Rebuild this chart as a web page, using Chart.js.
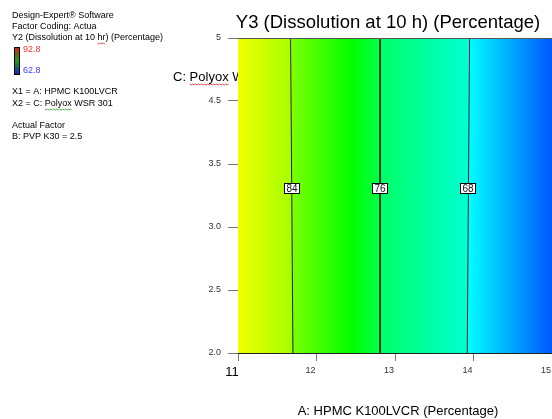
<!DOCTYPE html>
<html>
<head>
<meta charset="utf-8">
<script src="https://cdn.jsdelivr.net/npm/chart.js@4.4.1/dist/chart.umd.min.js"></script>
<style>
  html, body { margin: 0; padding: 0; background: #fff; }
  #wrap { width: 552px; height: 419px; }
</style>
</head>
<body>
<div id="wrap"><canvas id="contourChart" width="552" height="419"></canvas></div>
<script>
const FONT = '"Liberation Sans", Arial, sans-serif';

// contour lines of the response (x position at top and bottom of the plot)
const contourLevels = [84, 76, 68];
const contourTopX = [11.67, 12.81, 13.95];
const contourBottomX = [11.70, 12.81, 13.92];
const contourLabelY = 3.3;

const xRange = [11, 15];
const yRange = [2.0, 4.5];
const yTickLabels = ['2.0', '2.5', '3.0', '3.5', '4.5', '5'];

const colorbarRange = [92.8, 62.8];

// colour bands between the contours
const bandColors = [
  ['#f0ff00', '#a4ff00'],
  ['#7cff00', '#00ff00', '#00ff48'],
  ['#00ff64', '#00ffd4'],
  ['#00ffff', '#0058ff']
];
const bandStops = [[0, 1], [0, 0.68, 1], [0, 1], [0, 1]];

function contourMid(i) {
  return (contourTopX[i] + contourBottomX[i]) / 2;
}

function surfaceGradient(context) {
  const chart = context.chart;
  const area = chart.chartArea;
  const xs = chart.scales.x;
  if (!area || !xs) return '#00ff00';
  const g = chart.ctx.createLinearGradient(area.left, 0, area.right, 0);
  const edges = [xRange[0], contourMid(0), contourMid(1), contourMid(2), xRange[1]];
  const w = area.right - area.left;
  bandColors.forEach((cols, b) => {
    const p0 = (xs.getPixelForValue(edges[b]) - area.left) / w;
    const p1 = (xs.getPixelForValue(edges[b + 1]) - area.left) / w;
    cols.forEach((c, i) => {
      const f = Math.min(1, Math.max(0, p0 + (p1 - p0) * bandStops[b][i]));
      g.addColorStop(f, c);
    });
  });
  return g;
}

function squiggle(ctx, x, y, w, color) {
  ctx.save();
  ctx.strokeStyle = color;
  ctx.lineWidth = 0.8;
  ctx.beginPath();
  for (let i = 0; i <= w; i += 1.5) {
    const yy = y + ((Math.round(i / 1.5) % 2) ? 1 : 0);
    if (i === 0) ctx.moveTo(x + i, yy); else ctx.lineTo(x + i, yy);
  }
  ctx.stroke();
  ctx.restore();
}

const textPlugin = {
  id: 'designExpertText',
  beforeDraw(chart) {
    const ctx = chart.ctx;
    ctx.save();
    ctx.fillStyle = '#000';
    ctx.textBaseline = 'middle';
    ctx.textAlign = 'left';
    ctx.font = '9px ' + FONT;
    ctx.fillText('Design-Expert\u00ae Software', 12, 16);
    ctx.fillText('Factor Coding: Actua', 12, 27);
    const l3a = 'Y2 (Dissolution at 10 ';
    ctx.fillText(l3a + 'hr) (Percentage)', 12, 38);
    squiggle(ctx, 12 + ctx.measureText(l3a).width, 43, ctx.measureText('hr').width, '#d02020');

    // colour bar
    const cb = ctx.createLinearGradient(0, 47, 0, 75);
    cb.addColorStop(0, '#e01818');
    cb.addColorStop(0.5, '#18a018');
    cb.addColorStop(1, '#1818c8');
    ctx.fillStyle = cb;
    ctx.fillRect(14, 47, 6, 28);
    ctx.strokeStyle = '#000';
    ctx.lineWidth = 1;
    ctx.strokeRect(14.5, 47.5, 5, 27);
    ctx.fillStyle = '#ff3030';
    ctx.fillText(colorbarRange[0].toFixed(1), 23, 50);
    ctx.fillStyle = '#4040ff';
    ctx.fillText(colorbarRange[1].toFixed(1), 23, 70.5);

    ctx.fillStyle = '#000';
    ctx.fillText('X1 = A: HPMC K100LVCR', 12, 92);
    const x2a = 'X2 = C: ';
    ctx.fillText(x2a + 'Polyox WSR 301', 12, 104);
    squiggle(ctx, 12 + ctx.measureText(x2a).width, 109, ctx.measureText('Polyox').width, '#30a030');
    ctx.fillText('Actual Factor', 12, 126);
    ctx.fillText('B: PVP K30 = 2.5', 12, 137);

    // y axis title, partly hidden behind the surface
    ctx.font = '13px ' + FONT;
    const yt = 'C: ';
    ctx.fillText(yt + 'Polyox WSR 301 (Percentage)', 173, 77);
    squiggle(ctx, 173 + ctx.measureText(yt).width, 84, ctx.measureText('Polyox').width, '#d02020');
    ctx.restore();
  },
  afterDatasetsDraw(chart) {
    const ctx = chart.ctx;
    const area = chart.chartArea;
    const xs = chart.scales.x, ys = chart.scales.y;
    ctx.save();
    // top edge of the plot
    ctx.strokeStyle = '#555';
    ctx.lineWidth = 1;
    ctx.beginPath();
    ctx.moveTo(area.left, area.top + 0.5);
    ctx.lineTo(area.right, area.top + 0.5);
    ctx.stroke();

    // contour labels
    ctx.font = '10px ' + FONT;
    ctx.textAlign = 'center';
    ctx.textBaseline = 'middle';
    const f = (yRange[1] - contourLabelY) / (yRange[1] - yRange[0]);
    contourLevels.forEach((lvl, i) => {
      const xv = contourTopX[i] + (contourBottomX[i] - contourTopX[i]) * f;
      const px = Math.round(xs.getPixelForValue(xv));
      const py = Math.round(ys.getPixelForValue(contourLabelY));
      const txt = String(lvl);
      const w = Math.ceil(ctx.measureText(txt).width) + 4;
      ctx.fillStyle = '#fff';
      ctx.fillRect(px - w / 2, py - 6, w, 11);
      ctx.strokeStyle = '#000';
      ctx.strokeRect(px - w / 2 + 0.5, py - 5.5, w - 1, 10);
      ctx.fillStyle = '#111';
      ctx.fillText(txt, px, py);
    });
    ctx.restore();
  },
  afterDraw(chart) {
    const ctx = chart.ctx;
    ctx.save();
    ctx.fillStyle = '#000';
    ctx.textAlign = 'center';
    ctx.textBaseline = 'middle';
    ctx.font = '18.5px ' + FONT;
    ctx.fillText('Y3 (Dissolution at 10 h) (Percentage)', 388, 23);
    ctx.font = '13px ' + FONT;
    ctx.fillText('A: HPMC K100LVCR (Percentage)', 398, 411);
    ctx.restore();
  }
};

const contourDatasets = contourLevels.map((lvl, i) => ({
  label: String(lvl),
  data: [{ x: contourTopX[i], y: yRange[1] }, { x: contourBottomX[i], y: yRange[0] }],
  borderColor: '#222',
  borderWidth: 1,
  pointRadius: 0,
  fill: false
}));

const surfaceDataset = {
  label: 'surface',
  data: [{ x: xRange[0], y: yRange[1] }, { x: xRange[1], y: yRange[1] }],
  borderWidth: 0,
  borderColor: 'rgba(0,0,0,0)',
  pointRadius: 0,
  fill: 'start',
  backgroundColor: surfaceGradient
};

const chart = new Chart(document.getElementById('contourChart').getContext('2d'), {
  type: 'line',
  data: { datasets: [...contourDatasets, surfaceDataset] },
  options: {
    responsive: false,
    animation: false,
    layout: { padding: { top: 38, left: 0, right: 0, bottom: 0 } },
    plugins: {
      legend: { display: false },
      tooltip: { enabled: false },
      title: { display: false }
    },
    scales: {
      x: {
        type: 'linear',
        min: xRange[0],
        max: xRange[1],
        ticks: {
          stepSize: 1,
          padding: 4,
          labelOffset: -6,
          maxRotation: 0,
          color: (c) => (c.tick && c.tick.value === 11 ? '#000' : '#333'),
          font: (c) => (c.tick && c.tick.value === 11 ? { size: 13, family: FONT } : { size: 9, family: FONT })
        },
        grid: { drawOnChartArea: false, tickLength: 8, color: '#777' },
        border: { display: true, color: '#222' },
        afterFit(scale) {
          scale.height = 66;
          scale.paddingLeft = 0;
          scale.paddingRight = 0;
        }
      },
      y: {
        type: 'linear',
        min: yRange[0],
        max: yRange[1],
        ticks: {
          stepSize: 0.5,
          padding: 7,
          color: '#333',
          font: { size: 9, family: FONT },
          callback: (v, idx) => yTickLabels[idx]
        },
        grid: { drawOnChartArea: false, tickLength: 10, color: '#777' },
        border: { display: true, color: '#222' },
        afterFit(scale) {
          scale.width = 238;
          scale.paddingTop = 0;
          scale.paddingBottom = 0;
        }
      }
    }
  },
  plugins: [textPlugin]
});
</script>
</body>
</html>
